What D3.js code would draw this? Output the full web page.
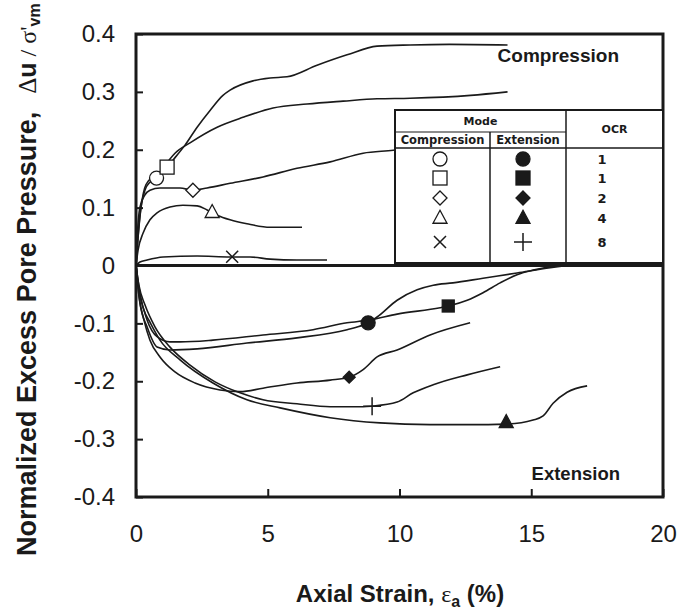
<!DOCTYPE html>
<html>
<head>
<meta charset="utf-8">
<script src="https://cdn.jsdelivr.net/npm/d3@7/dist/d3.min.js"></script>
<style>
  html, body { margin: 0; padding: 0; background: #fff; }
  svg { display: block; }
</style>
</head>
<body>
<svg id="chart" width="678" height="616"></svg>
<script>
// ---------- DATA (axial strain %, normalized excess pore pressure) ----------
const xTicks = [0, 5, 10, 15, 20];
const yTicks = [0.4, 0.3, 0.2, 0.1, 0, -0.1, -0.2, -0.3, -0.4];
const yTickLabels = ["0.4", "0.3", "0.2", "0.1", "0", "-0.1", "-0.2", "-0.3", "-0.4"];

// Compression tests
const compOCR1sq = [[0,0],[0.08,0.05],[0.19,0.10],[0.38,0.14],[0.72,0.156],[1.18,0.170],[1.40,0.182],[1.86,0.208],[2.32,0.239],[2.81,0.268],[3.30,0.294],[3.57,0.303],[4.44,0.319],[5.09,0.324],[5.73,0.326],[6.87,0.346],[8.01,0.364],[9.15,0.379],[10.4,0.381],[11.9,0.382],[14.1,0.381]];
const compOCR1ci = [[0,0],[0.15,0.087],[0.34,0.13],[0.53,0.144],[0.76,0.151],[1.10,0.173],[1.48,0.194],[2.05,0.212],[3.08,0.239],[4.06,0.256],[5.20,0.272],[6.49,0.279],[7.86,0.284],[9.15,0.288],[10.4,0.289],[12.7,0.294],[14.1,0.300]];
const compOCR2 = [[0,0],[0.04,0.044],[0.15,0.101],[0.34,0.122],[0.53,0.130],[0.91,0.134],[1.67,0.134],[2.16,0.130],[2.70,0.134],[3.57,0.142],[4.82,0.153],[6.11,0.168],[7.37,0.179],[8.62,0.194],[9.76,0.199],[11.2,0.208],[13.1,0.217]];
const compOCR4 = [[0,0],[0.08,0.027],[0.27,0.056],[0.53,0.079],[0.80,0.091],[1.29,0.101],[1.78,0.104],[2.32,0.103],[2.70,0.096],[3.08,0.087],[3.57,0.079],[4.21,0.072],[5.09,0.066],[6.30,0.066]];
const compOCR8 = [[0,0],[0.15,0.006],[0.42,0.0095],[1.03,0.0147],[2.32,0.0164],[3.57,0.0147],[4.33,0.0147],[5.09,0.011],[6.11,0.0095],[7.25,0.0095]];

// Extension tests
const extOCR1sq = [[0,0],[0.15,-0.048],[0.42,-0.094],[0.80,-0.123],[1.29,-0.132],[1.67,-0.132],[2.92,-0.129],[4.82,-0.120],[6.72,-0.111],[8.01,-0.099],[8.88,-0.094],[9.91,-0.084],[11.54,-0.073],[11.85,-0.070],[12.57,-0.060],[13.17,-0.047],[13.82,-0.030],[14.46,-0.016],[15.07,-0.008],[16.1,0]];
const extOCR1ci = [[0,0],[0.15,-0.065],[0.42,-0.106],[0.80,-0.141],[1.29,-0.146],[2.32,-0.144],[4.21,-0.134],[6.11,-0.125],[8.01,-0.111],[8.62,-0.103],[8.81,-0.099],[9.15,-0.089],[9.91,-0.060],[10.67,-0.042],[11.28,-0.034],[12.03,-0.030],[13.17,-0.022],[14.46,-0.013],[15.72,-0.004],[16.36,0]];
const extOCR2 = [[0,0],[0.11,-0.052],[0.30,-0.094],[0.53,-0.129],[0.91,-0.158],[1.48,-0.184],[2.24,-0.203],[3.19,-0.215],[3.95,-0.218],[4.82,-0.212],[6.11,-0.203],[7.37,-0.198],[8.09,-0.193],[8.62,-0.180],[9.15,-0.158],[9.91,-0.146],[11.16,-0.120],[12.68,-0.099]];
const extOCR4 = [[0,0],[0.11,-0.042],[0.30,-0.077],[0.53,-0.098],[0.91,-0.129],[1.67,-0.163],[2.92,-0.203],[4.21,-0.232],[5.47,-0.246],[7.37,-0.263],[9.26,-0.272],[11.16,-0.275],[12.68,-0.275],[14.05,-0.274],[15.07,-0.267],[15.45,-0.260],[15.83,-0.238],[16.36,-0.219],[17.12,-0.208]];
const extOCR8 = [[0,0],[0.11,-0.034],[0.34,-0.068],[0.72,-0.106],[1.29,-0.141],[2.05,-0.172],[3.0,-0.201],[3.95,-0.220],[4.82,-0.232],[6.11,-0.239],[7.37,-0.244],[8.62,-0.244],[8.96,-0.243],[9.91,-0.236],[10.52,-0.220],[11.28,-0.206],[12.57,-0.189],[13.82,-0.175]];

// Marker points on the curves: [strain, pore pressure]
const markCompOCR1ci = [0.78, 0.151];
const markCompOCR1sq = [1.18, 0.170];
const markCompOCR2 = [2.16, 0.130];
const markCompOCR4 = [2.89, 0.092];
const markCompOCR8 = [3.65, 0.015];
const markExtOCR1ci = [8.81, -0.099];
const markExtOCR1sq = [11.85, -0.070];
const markExtOCR2 = [8.09, -0.193];
const markExtOCR4 = [14.05, -0.271];
const markExtOCR8 = [8.96, -0.243];

// Legend table
const legendModes = ["Compression", "Extension"];
const legendShapes = ["circle", "square", "diamond", "triangle", "cross"];
const legendOCR = ["1", "1", "2", "4", "8"];

// ---------- DRAWING ----------
const svg = d3.select("#chart");
const L = 136, R = 663, T = 34, B = 497;
const x = d3.scaleLinear().domain([0, 20]).range([L, R]);
const y = d3.scaleLinear().domain([-0.4, 0.4]).range([B, T]);

const ink = "#1a1a1a";
const sans = "Liberation Sans, Arial, sans-serif";
const serif = "Liberation Serif, Times New Roman, serif";

// axes: ticks inward
const xAxis = d3.axisBottom(x).tickValues(xTicks).tickSize(-8).tickPadding(28).tickFormat(d3.format("d"));
const gx = svg.append("g").attr("transform", `translate(0,${B})`).call(xAxis);
const yAxis = d3.axisLeft(y).tickValues(yTicks).tickSize(-7).tickPadding(21).tickFormat((d, i) => yTickLabels[i]);
const gy = svg.append("g").attr("transform", `translate(${L},0)`).call(yAxis);
[gx, gy].forEach(g => {
  g.select(".domain").remove();
  g.selectAll(".tick line").attr("stroke", ink).attr("stroke-width", 2);
  g.selectAll(".tick text").attr("fill", ink).attr("font-family", sans).attr("font-size", 24);
});
gx.selectAll(".tick text").attr("dy", "0.71em");

// frame
svg.append("rect").attr("x", L).attr("y", T).attr("width", R - L).attr("height", B - T)
  .attr("fill", "none").attr("stroke", ink).attr("stroke-width", 3);
// zero line
svg.append("line").attr("x1", L).attr("x2", R).attr("y1", y(0)).attr("y2", y(0))
  .attr("stroke", ink).attr("stroke-width", 3);

// curves
const line = d3.line().x(d => x(d[0])).y(d => y(d[1])).curve(d3.curveMonotoneX);
const curves = [compOCR1sq, compOCR1ci, compOCR2, compOCR4, compOCR8, extOCR1sq, extOCR1ci, extOCR2, extOCR4, extOCR8];
svg.append("g").selectAll("path").data(curves).join("path")
  .attr("d", line).attr("fill", "none").attr("stroke", ink).attr("stroke-width", 1.6)
  .attr("stroke-linejoin", "round");

// marker drawing
function marker(g, shape, filled, cx, cy, s) {
  const fill = filled ? ink : "#fff";
  const sw = 1.3;
  if (shape === "circle") {
    g.append("circle").attr("cx", cx).attr("cy", cy).attr("r", s).attr("fill", fill).attr("stroke", ink).attr("stroke-width", sw);
  } else if (shape === "square") {
    g.append("rect").attr("x", cx - s).attr("y", cy - s).attr("width", 2 * s).attr("height", 2 * s).attr("fill", fill).attr("stroke", ink).attr("stroke-width", sw);
  } else if (shape === "diamond") {
    g.append("path").attr("d", `M${cx},${cy - s}L${cx + s},${cy}L${cx},${cy + s}L${cx - s},${cy}Z`).attr("fill", fill).attr("stroke", ink).attr("stroke-width", sw);
  } else if (shape === "triangle") {
    g.append("path").attr("d", `M${cx},${cy - s * 1.1}L${cx + s},${cy + s * 0.75}L${cx - s},${cy + s * 0.75}Z`).attr("fill", fill).attr("stroke", ink).attr("stroke-width", sw).attr("stroke-linejoin", "miter");
  } else if (shape === "cross") {
    if (filled) {
      g.append("path").attr("d", `M${cx - s},${cy}L${cx + s},${cy}M${cx},${cy - s}L${cx},${cy + s}`).attr("stroke", ink).attr("stroke-width", 1.5);
    } else {
      const k = s * 0.75;
      g.append("path").attr("d", `M${cx - k},${cy - k}L${cx + k},${cy + k}M${cx - k},${cy + k}L${cx + k},${cy - k}`).attr("stroke", ink).attr("stroke-width", 1.5);
    }
  }
}

const mg = svg.append("g");
const compMarks = [markCompOCR1ci, markCompOCR1sq, markCompOCR2, markCompOCR4, markCompOCR8];
const extMarks = [markExtOCR1ci, markExtOCR1sq, markExtOCR2, markExtOCR4, markExtOCR8];
const compSize = { circle: 7, square: 7, diamond: 7, triangle: 7, cross: 8 };
const extSize = { circle: 7, square: 6, diamond: 6, triangle: 7, cross: 9 };
compMarks.forEach((m, i) => marker(mg, legendShapes[i], false, x(m[0]), y(m[1]), compSize[legendShapes[i]]));
extMarks.forEach((m, i) => marker(mg, legendShapes[i], true, x(m[0]), y(m[1]), extSize[legendShapes[i]]));

// corner labels
svg.append("text").attr("x", 619).attr("y", 62).attr("text-anchor", "end")
  .attr("font-family", sans).attr("font-weight", "bold").attr("font-size", 19).attr("fill", ink).text("Compression");
svg.append("text").attr("x", 620).attr("y", 480).attr("text-anchor", "end")
  .attr("font-family", sans).attr("font-weight", "bold").attr("font-size", 18.5).attr("fill", ink).text("Extension");

// legend table
const lg = svg.append("g");
const lx0 = 395, lx1 = 490, lx2 = 566, lx3 = R, ly0 = 110, ly1 = 132, ly2 = 148, ly3 = 263;
lg.append("rect").attr("x", lx0).attr("y", ly0).attr("width", lx3 - lx0).attr("height", ly3 - ly0)
  .attr("fill", "#fff").attr("stroke", ink).attr("stroke-width", 2);
const lineSeg = (x1, y1, x2, y2, w) => lg.append("line").attr("x1", x1).attr("y1", y1).attr("x2", x2).attr("y2", y2).attr("stroke", ink).attr("stroke-width", w);
lineSeg(lx0, ly1, lx2, ly1, 1.2);
lineSeg(lx0, ly2, lx3, ly2, 1.5);
lineSeg(lx1, ly1, lx1, ly3, 1.5);
lineSeg(lx2, ly0, lx2, ly3, 1.5);
const tf = "DejaVu Sans, Verdana, sans-serif";
lg.append("text").attr("x", (lx0 + lx2) / 2).attr("y", 125).attr("text-anchor", "middle")
  .attr("font-family", tf).attr("font-weight", "bold").attr("font-size", 11).attr("fill", ink).text("Mode");
lg.append("text").attr("x", (lx2 + lx3) / 2).attr("y", 133).attr("text-anchor", "middle")
  .attr("font-family", tf).attr("font-weight", "bold").attr("font-size", 11).attr("fill", ink).text("OCR");
lg.append("text").attr("x", (lx0 + lx1) / 2).attr("y", 144).attr("text-anchor", "middle")
  .attr("font-family", tf).attr("font-weight", "bold").attr("font-size", 11.5).attr("fill", ink).text(legendModes[0]);
lg.append("text").attr("x", (lx1 + lx2) / 2).attr("y", 144).attr("text-anchor", "middle")
  .attr("font-family", tf).attr("font-weight", "bold").attr("font-size", 11.5).attr("fill", ink).text(legendModes[1]);
const rowY = [159, 178, 198, 218, 242];
legendShapes.forEach((s, i) => {
  marker(lg, s, false, 440, rowY[i], s === "cross" ? 8 : 7);
  marker(lg, s, true, 523, rowY[i], s === "cross" ? 9 : 7);
  lg.append("text").attr("x", 602).attr("y", rowY[i] + 5).attr("text-anchor", "middle")
    .attr("font-family", tf).attr("font-weight", "bold").attr("font-size", 13).attr("fill", ink).text(legendOCR[i]);
});

// axis titles
svg.append("text").attr("x", 400).attr("y", 602).attr("text-anchor", "middle")
  .attr("font-family", sans).attr("font-weight", "bold").attr("font-size", 24).attr("fill", ink)
  .call(t => {
    t.append("tspan").text("Axial Strain, ");
    t.append("tspan").attr("font-family", serif).attr("font-weight", "normal").text("ε");
    t.append("tspan").attr("font-size", 16).attr("dy", 5).text("a");
    t.append("tspan").attr("dy", -5).text(" (%)");
  });

svg.append("text").attr("transform", "translate(36,556) rotate(-90)").attr("text-anchor", "start")
  .attr("font-family", sans).attr("font-weight", "bold").attr("font-size", 27).attr("fill", ink)
  .call(t => {
    t.append("tspan").text("Normalized Excess Pore Pressure,");
    t.append("tspan").attr("dx", 18).attr("font-family", serif).attr("font-weight", "normal").attr("font-size", 25).text("Δ");
    t.append("tspan").attr("font-size", 25).text("u");
    t.append("tspan").attr("font-family", serif).attr("font-weight", "normal").attr("font-size", 24).text(" / σ'");
    t.append("tspan").attr("font-size", 16).attr("dy", 4).text("vm");
  });
</script>
</body>
</html>
